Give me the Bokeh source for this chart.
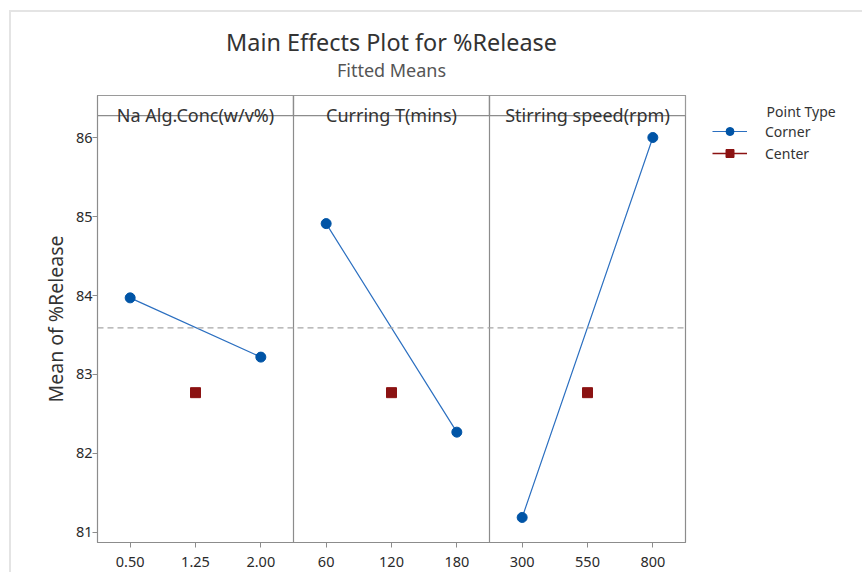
import math
from bokeh.plotting import figure
from bokeh.layouts import row
from bokeh.models import Range1d, FixedTicker, Legend, LegendItem, Span, Title
from bokeh.core.properties import value
from bokeh.embed import file_html
from bokeh.resources import INLINE

# ---------------- data ----------------
title_text = "Main Effects Plot for %Release"
subtitle_text = "Fitted Means"
factors = ["Na Alg.Conc(w/v%)", "Curring T(mins)", "Stirring speed(rpm)"]
levels = [["0.50", "1.25", "2.00"], ["60", "120", "180"], ["300", "550", "800"]]
corner_low = [83.97, 84.91, 81.19]    # mean at low level (corner points)
corner_high = [83.22, 82.27, 86.00]   # mean at high level (corner points)
center_means = [82.77, 82.77, 82.77]  # mean at center level
overall_mean = 83.59
y_ticks = [81, 82, 83, 84, 85, 86]
y_label = "Mean of %Release"
legend_title = "Point Type"
series_names = ["Corner", "Center"]

# ---------------- style ----------------
FONT = "Noto Sans"
TXT = "#333333"
FRAME = "#8c8c8c"
BLUE = "#0054a6"
BLUE_LINE = "#2b6fc0"
RED = "#8b1212"
WM, WQ, H = 680, 171, 560
FL, FT, FR, FB = 86, 83, 674, 530     # frame position in canvas px
Y0, Y1 = 80.873, 86.532
STRIP_B = 86.278

n = len(levels[0])
npan = len(factors)


def pos(i, j):
    return i * n + j


p = figure(width=WM, height=H, output_backend="svg", toolbar_location=None, title=None,
           x_range=Range1d(-0.5, npan * n - 0.5), y_range=Range1d(Y0, Y1),
           min_border_left=FL, min_border_top=FT,
           min_border_right=WM - FR, min_border_bottom=H - FB)
p.xgrid.visible = False
p.ygrid.visible = False
p.outline_line_color = FRAME
p.outline_line_width = 1.2
p.background_fill_color = "white"

# axes
p.xaxis.ticker = FixedTicker(ticks=[pos(i, j) for i in range(npan) for j in range(n)])
p.xaxis.major_label_overrides = {pos(i, j): levels[i][j] for i in range(npan) for j in range(n)}
p.yaxis.ticker = FixedTicker(ticks=y_ticks)
for ax in (p.xaxis[0], p.yaxis[0]):
    ax.minor_tick_line_color = None
    ax.axis_line_color = FRAME
    ax.major_tick_line_color = FRAME
    ax.major_tick_in = 0
    ax.major_tick_out = 5
    ax.major_label_text_font = FONT
    ax.major_label_text_font_size = "14.5px"
    ax.major_label_text_color = "#2a2a2a"
p.xaxis.major_label_standoff = 9
p.yaxis.major_label_standoff = 0
p.yaxis.axis_label = y_label
p.yaxis.axis_label_text_font = FONT
p.yaxis.axis_label_text_font_size = "19.5px"
p.yaxis.axis_label_text_font_style = "normal"
p.yaxis.axis_label_text_color = TXT
p.yaxis.axis_label_standoff = 4

# panel strips and dividers
p.quad(left=[pos(i, 0) - 0.5 for i in range(npan)],
       right=[pos(i, n - 1) + 0.5 for i in range(npan)],
       bottom=[STRIP_B] * npan, top=[Y1] * npan,
       fill_color="white", line_color=FRAME, line_width=1.2)
p.segment(x0=[pos(i, 0) - 0.5 for i in range(1, npan)],
          x1=[pos(i, 0) - 0.5 for i in range(1, npan)],
          y0=[Y0] * (npan - 1), y1=[Y1] * (npan - 1),
          line_color=FRAME, line_width=1.2)
p.text(x=[pos(i, (n - 1) / 2) for i in range(npan)], y=[STRIP_B] * npan,
       text=factors, text_align="center", text_baseline="alphabetic", y_offset=-1,
       text_font=value(FONT), text_font_size="18px", text_color=TXT)

# overall mean reference line
p.add_layout(Span(location=overall_mean, dimension="width", line_color="#a6a6a6",
                  line_dash="6 4", line_width=1.4))

# corner means
lx, ly, cx, cy = [], [], [], []
for i in range(npan):
    lx += [pos(i, 0), pos(i, n - 1), math.nan]
    ly += [corner_low[i], corner_high[i], math.nan]
    cx += [pos(i, 0), pos(i, n - 1)]
    cy += [corner_low[i], corner_high[i]]
p.line(lx, ly, line_color=BLUE_LINE, line_width=1.2)
p.scatter(cx, cy, marker="circle", size=10, fill_color=BLUE, line_color=BLUE)

# center means
mx = [pos(i, (n - 1) // 2) for i in range(npan)]
p.scatter(mx, center_means, marker="square", size=10, fill_color=RED, line_color=RED)

p.add_layout(Title(text=subtitle_text, align="center", text_font=FONT,
                   text_font_size="18px", text_font_style="normal",
                   text_color="#555555", standoff=28), "above")
p.add_layout(Title(text=title_text, align="center", text_font=FONT,
                   text_font_size="23.4px", text_font_style="normal",
                   text_color=TXT, standoff=-32), "above")

# ---------------- legend panel (separate blank figure) ----------------
q = figure(width=WQ, height=H, output_backend="svg", toolbar_location=None, title=None,
           x_range=Range1d(0, 1), y_range=Range1d(0, 1),
           x_axis_type=None, y_axis_type=None, min_border=0)
q.xgrid.visible = False
q.ygrid.visible = False
q.outline_line_color = None
nan = [math.nan]
k_line = q.line(nan, nan, line_color=BLUE_LINE, line_width=1.2)
k_circ = q.scatter(nan, nan, marker="circle", size=10, fill_color=BLUE, line_color=BLUE)
c_line = q.line(nan, nan, line_color=RED, line_width=1.4)
c_sq = q.scatter(nan, nan, marker="square", size=10, fill_color=RED, line_color=RED)

legend = Legend(items=[LegendItem(label=series_names[0], renderers=[k_line, k_circ]),
                       LegendItem(label=series_names[1], renderers=[c_line, c_sq])],
                location=(21, 379), orientation="vertical",
                title="\u00a0" * 15 + legend_title, title_standoff=0,
                title_text_font=FONT, title_text_font_size="14px",
                title_text_font_style="normal", title_text_color=TXT,
                border_line_color=None, background_fill_alpha=0,
                padding=0, margin=0, glyph_width=35, glyph_height=20,
                label_standoff=18, spacing=2,
                label_text_font=FONT, label_text_font_size="14px", label_text_color=TXT)
q.add_layout(legend)

layout = row(p, q)
layout.styles = {"margin-left": "9px", "margin-top": "10px",
                 "border-top": "2px solid #e4e4e4", "border-left": "2px solid #e4e4e4"}

open("out.html", "w").write(file_html(layout, INLINE))
